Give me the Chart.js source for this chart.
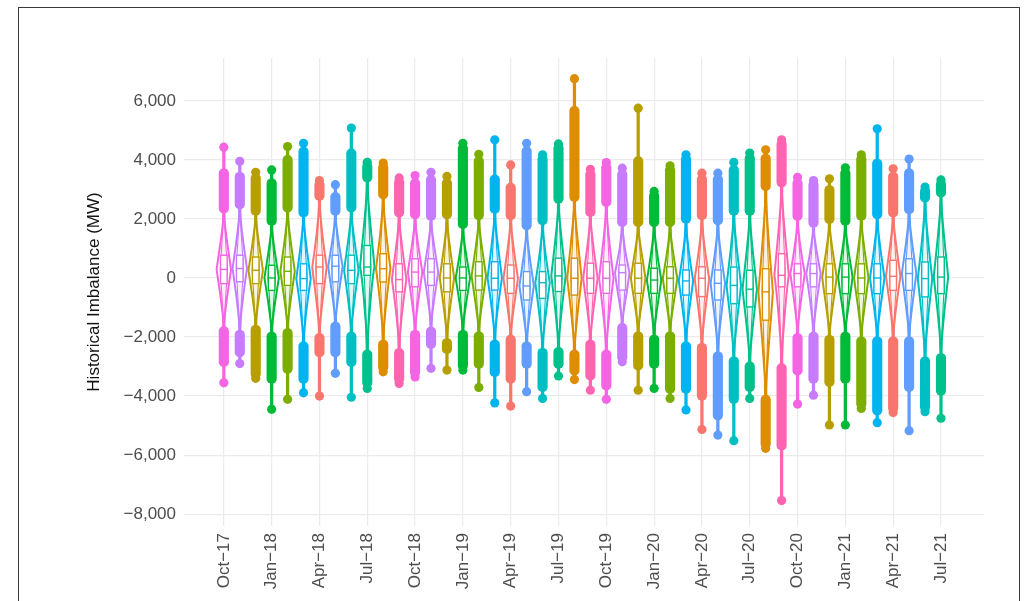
<!DOCTYPE html>
<html>
<head>
<meta charset="utf-8">
<script src="https://cdn.jsdelivr.net/npm/chart.js@4.4.1/dist/chart.umd.min.js"></script>
<style>
  html, body { margin: 0; padding: 0; background: #fff; overflow: hidden; }
  #wrap { position: relative; width: 1028px; height: 601px; }
  #frame { position: absolute; left: 18px; top: 7px; width: 1002px; height: 620px;
           border: 1.5px solid #3a3a3a; box-sizing: border-box; pointer-events: none; }
</style>
</head>
<body>
<div id="wrap">
  <canvas id="violinChart" width="1028" height="601"></canvas>
  <div id="frame"></div>
</div>
<script>
// months Oct-17 .. Jul-21
const months = [
  "Oct-17","Nov-17","Dec-17",
  "Jan-18","Feb-18","Mar-18","Apr-18","May-18","Jun-18","Jul-18","Aug-18","Sep-18","Oct-18","Nov-18","Dec-18",
  "Jan-19","Feb-19","Mar-19","Apr-19","May-19","Jun-19","Jul-19","Aug-19","Sep-19","Oct-19","Nov-19","Dec-19",
  "Jan-20","Feb-20","Mar-20","Apr-20","May-20","Jun-20","Jul-20","Aug-20","Sep-20","Oct-20","Nov-20","Dec-20",
  "Jan-21","Feb-21","Mar-21","Apr-21","May-21","Jun-21","Jul-21"
];
const tickMonths = [0, 3, 6, 9, 12, 15, 18, 21, 24, 27, 30, 33, 36, 39, 42, 45];
const yTicks = [-8000, -6000, -4000, -2000, 0, 2000, 4000, 6000];

// values in MW
const maxVals = [4430,3950,3580,3660,4450,4560,3300,3160,5080,3920,3890,3390,3470,3580,3440,4560,
                 4190,4680,3830,4560,4170,4540,6750,3680,3910,3720,5750,2930,3800,4170,3550,3550,
                 3920,4230,4340,4680,3410,3300,3360,3730,4170,5050,3700,4030,3080,3320];
const upperBandTop = [3700,3580,3530,3360,4150,4430,3300,2900,4370,3920,3890,3390,3360,3470,3360,4540,
                      4110,3490,3210,4450,4170,4540,5810,3660,3890,3660,4110,2930,3800,4170,3490,3490,
                      3810,4200,4200,4680,3360,3300,3130,3700,4170,4030,3580,3700,3080,3320];
const upperFence = [2200,2340,2120,1780,2230,2060,2630,2120,2230,3250,2680,2060,2000,1950,2000,1670,
                    1970,2190,1970,1630,1800,2530,2590,2080,2420,1740,1740,1740,1740,1850,1970,1800,
                    2120,2120,2960,3080,1950,1720,1840,1780,1950,2000,2060,2170,2570,2740];
const q3Vals = [770,770,710,430,710,480,770,770,770,1100,820,480,650,650,480,370,
                550,550,440,215,215,670,670,500,550,440,500,330,380,270,380,270,
                370,260,315,820,480,480,480,480,480,480,600,650,540,710];
const medianVals = [290,320,260,0,225,-20,370,400,260,370,315,-55,200,200,0,0,
                    70,-10,-10,-270,-160,70,-10,-10,-10,180,-10,-70,-10,-100,-10,-180,
                    -250,-380,-470,90,150,150,30,30,0,0,55,150,-20,30];
const q1Vals = [-190,-130,-190,-420,-250,-420,-190,-130,-190,90,-135,-470,-300,-250,-470,-420,
                -410,-410,-520,-745,-690,-460,-580,-520,-520,-410,-520,-520,-520,-580,-630,-745,
                -870,-980,-1430,-300,-300,-300,-530,-530,-530,-530,-420,-420,-640,-530];
const lowerFence = [-1650,-1770,-1600,-1830,-1710,-2160,-1880,-1490,-1830,-2440,-2100,-2390,-1770,-1660,-2050,-1770,
                    -1820,-2100,-1930,-2160,-2380,-2350,-2440,-2100,-2440,-1540,-1820,-1930,-1820,-2160,-2210,-2500,
                    -2670,-2840,-3970,-2900,-1880,-1830,-1940,-1830,-1990,-1990,-1990,-1990,-2670,-2560];
const lowerBandBottom = [-3000,-2670,-3400,-3570,-3230,-3570,-2670,-2670,-3000,-3700,-3180,-3570,-3350,-2390,-2560,-3120,
                         -3060,-3340,-3570,-3060,-3850,-3060,-3290,-3460,-3800,-2840,-3120,-3060,-3910,-3910,-4140,-4810,
                         -4250,-3850,-5770,-5830,-3290,-3570,-3680,-3570,-4420,-4640,-4560,-3850,-4530,-3970];
const minVals = [-3550,-2900,-3400,-4450,-4110,-3890,-4000,-3230,-4040,-3740,-3180,-3570,-3350,-3060,-3120,-3120,
                 -3710,-4230,-4340,-3850,-4080,-3320,-3440,-3800,-4110,-2840,-3800,-3740,-4080,-4470,-5130,-5320,
                 -5510,-4080,-5770,-7540,-4270,-3970,-4980,-4980,-4420,-4900,-4560,-5170,-4530,-4750];

// one hue per calendar month (ggplot default palette, months in alphabetical order)
const monthColors = {
  Apr: "#F8766D", Aug: "#DE8C00", Dec: "#B79F00", Feb: "#7CAE00", Jan: "#00BA38", Jul: "#00C08B",
  Jun: "#00BFC4", Mar: "#00B4F0", May: "#619CFF", Nov: "#C77CFF", Oct: "#F564E3", Sep: "#FF64B0"
};
const colors = months.map(m => monthColors[m.slice(0, 3)]);

function fmt(v) {
  return v.toLocaleString("en-US").replace("-", "\u2212");
}

const violinPlugin = {
  id: "violins",
  afterDatasetsDraw(chart) {
    const { ctx, chartArea, scales: { x, y } } = chart;
    const halfW = 7.2, boxW = 3.3, tip = 1.5;
    ctx.save();
    ctx.beginPath();
    ctx.rect(chartArea.left, chartArea.top, chartArea.right - chartArea.left, chartArea.bottom - chartArea.top);
    ctx.clip();

    const violinPath = (cx, w, yLo, yQ1, yMed, yQ3, yUp) => {
      ctx.beginPath();
      ctx.moveTo(cx, yLo);
      // right side, bottom to top
      ctx.bezierCurveTo(cx + tip, (yLo + yQ1) / 2, cx + w * 0.75, yQ1, cx + w, yMed);
      ctx.bezierCurveTo(cx + w * 0.75, yQ3, cx + tip, (yQ3 + yUp) / 2, cx, yUp);
      // left side, top to bottom
      ctx.bezierCurveTo(cx - tip, (yQ3 + yUp) / 2, cx - w * 0.75, yQ3, cx - w, yMed);
      ctx.bezierCurveTo(cx - w * 0.75, yQ1, cx - tip, (yLo + yQ1) / 2, cx, yLo);
      ctx.closePath();
    };

    months.forEach((m, i) => {
      const cx = x.getPixelForValue(i);
      const col = colors[i];
      const yLo = y.getPixelForValue(lowerFence[i]);
      const yUp = y.getPixelForValue(upperFence[i]);
      const yMed = y.getPixelForValue(medianVals[i]);
      const yQ1 = y.getPixelForValue(q1Vals[i]);
      const yQ3 = y.getPixelForValue(q3Vals[i]);

      violinPath(cx, halfW, yLo, yQ1, yMed, yQ3, yUp);
      ctx.fillStyle = "rgba(255,255,255,0.88)";
      ctx.fill();
      ctx.strokeStyle = col;
      ctx.lineWidth = 2;
      ctx.stroke();

      violinPath(cx, halfW * 0.5, yLo, yQ1, yMed, yQ3, yUp);
      ctx.lineWidth = 1.1;
      ctx.stroke();

      ctx.fillStyle = "#fff";
      ctx.fillRect(cx - boxW, yQ3, boxW * 2, yQ1 - yQ3);
      ctx.lineWidth = 1.4;
      ctx.strokeRect(cx - boxW, yQ3, boxW * 2, yQ1 - yQ3);
      ctx.beginPath();
      ctx.moveTo(cx - boxW, yMed);
      ctx.lineTo(cx + boxW, yMed);
      ctx.stroke();
    });
    ctx.restore();
  }
};

const tailData = months.map((m, i) => ({ x: i, y: [minVals[i], maxVals[i]] }));
const upperData = months.map((m, i) => ({ x: i, y: [upperFence[i], upperBandTop[i]] }));
const lowerData = months.map((m, i) => ({ x: i, y: [lowerBandBottom[i], lowerFence[i]] }));
const extremeData = months.map((m, i) => ({ x: i, y: maxVals[i] }))
  .concat(months.map((m, i) => ({ x: i, y: minVals[i] })));
const extremeColors = colors.concat(colors);

const gridColor = "#ebebeb";
const tickColor = "#4d4d4d";

const violinChart = new Chart(document.getElementById("violinChart"), {
  type: "bar",
  data: {
    datasets: [
      { data: tailData, backgroundColor: colors, barThickness: 2.6, grouped: false, order: 3 },
      { data: upperData, backgroundColor: colors, barThickness: 9.5, borderRadius: 5,
        borderSkipped: false, grouped: false, order: 2 },
      { data: lowerData, backgroundColor: colors, barThickness: 9.5, borderRadius: 5,
        borderSkipped: false, grouped: false, order: 2 },
      { type: "scatter", data: extremeData, pointRadius: 4.6, pointBackgroundColor: extremeColors,
        pointBorderWidth: 0, order: 1 }
    ]
  },
  options: {
    responsive: false,
    devicePixelRatio: 1,
    animation: false,
    layout: { padding: { left: 84, top: 58, right: 44, bottom: 0 } },
    plugins: { legend: { display: false }, tooltip: { enabled: false } },
    scales: {
      x: {
        type: "linear",
        min: -2.5,
        max: 47.7,
        offset: false,
        afterBuildTicks: scale => { scale.ticks = tickMonths.map(v => ({ value: v })); },
        afterFit: scale => { scale.height = 75; },
        ticks: {
          autoSkip: false,
          maxRotation: 90,
          minRotation: 90,
          padding: 7,
          color: tickColor,
          font: { family: "Liberation Sans, Arial, sans-serif", size: 17 },
          callback: v => months[v].replace("-", "\u2212")
        },
        grid: { color: gridColor, lineWidth: 1.2, drawTicks: false, offset: false },
        border: { display: false }
      },
      y: {
        min: -8400,
        max: 7450,
        afterBuildTicks: scale => { scale.ticks = yTicks.map(v => ({ value: v })); },
        afterFit: scale => { scale.width = 100; },
        ticks: {
          padding: 8,
          color: tickColor,
          font: { family: "Liberation Sans, Arial, sans-serif", size: 17 },
          callback: v => fmt(v)
        },
        grid: { color: gridColor, lineWidth: 1.2, drawTicks: false },
        border: { display: false },
        title: {
          display: true,
          text: "Historical Imbalance (MW)",
          color: "#111",
          padding: { top: 0, bottom: 0 },
          font: { family: "Liberation Sans, Arial, sans-serif", size: 17 }
        }
      }
    }
  },
  plugins: [violinPlugin]
});
</script>
</body>
</html>
